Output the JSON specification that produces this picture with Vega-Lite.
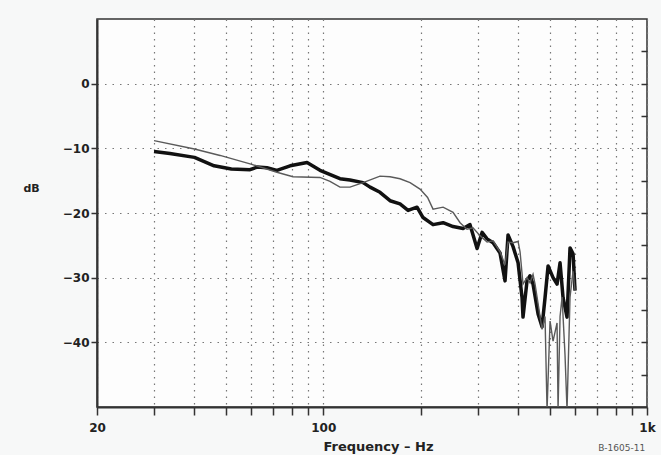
{
  "$schema": "https://vega.github.io/schema/vega-lite/v6.json",
  "width": 550,
  "height": 388,
  "autosize": {"type": "none"},
  "padding": {"left": 97, "top": 19, "right": 14, "bottom": 48},
  "background": "#f7f8f8",
  "config": {
    "view": {"stroke": "#333333", "strokeWidth": 1.5, "fill": "#fdfdfd"},
    "font": "DejaVu Sans"
  },
  "title": {
    "text": "B-1605-11",
    "orient": "bottom",
    "anchor": "end",
    "fontSize": 9,
    "fontWeight": "normal",
    "color": "#555555",
    "font": "DejaVu Sans",
    "offset": 0,
    "dy": -9,
    "dx": -10
  },
  "data": {
    "values": [
      {"series": "thick", "f": 30, "db": -10.5},
      {"series": "thick", "f": 33.6, "db": -10.8},
      {"series": "thick", "f": 40, "db": -11.4},
      {"series": "thick", "f": 46, "db": -12.7},
      {"series": "thick", "f": 52, "db": -13.2},
      {"series": "thick", "f": 59.4, "db": -13.3},
      {"series": "thick", "f": 62.5, "db": -12.9},
      {"series": "thick", "f": 67, "db": -13.0},
      {"series": "thick", "f": 71.9, "db": -13.4},
      {"series": "thick", "f": 79, "db": -12.7},
      {"series": "thick", "f": 89.1, "db": -12.2},
      {"series": "thick", "f": 97.7, "db": -13.4},
      {"series": "thick", "f": 112.6, "db": -14.7},
      {"series": "thick", "f": 120.9, "db": -14.9},
      {"series": "thick", "f": 132.7, "db": -15.3},
      {"series": "thick", "f": 139.5, "db": -16.0},
      {"series": "thick", "f": 149.7, "db": -16.8},
      {"series": "thick", "f": 160.8, "db": -18.1},
      {"series": "thick", "f": 172.6, "db": -18.6},
      {"series": "thick", "f": 182.8, "db": -19.6},
      {"series": "thick", "f": 194.8, "db": -19.1},
      {"series": "thick", "f": 203.3, "db": -20.7},
      {"series": "thick", "f": 218.3, "db": -21.8},
      {"series": "thick", "f": 234.5, "db": -21.5},
      {"series": "thick", "f": 251.7, "db": -22.1},
      {"series": "thick", "f": 270.3, "db": -22.4},
      {"series": "thick", "f": 284, "db": -21.8},
      {"series": "thick", "f": 298.6, "db": -25.5},
      {"series": "thick", "f": 309.4, "db": -23.0},
      {"series": "thick", "f": 320.6, "db": -24.0},
      {"series": "thick", "f": 334.6, "db": -24.6},
      {"series": "thick", "f": 351.6, "db": -26.2},
      {"series": "thick", "f": 364.3, "db": -30.5},
      {"series": "thick", "f": 372.2, "db": -23.4},
      {"series": "thick", "f": 385.7, "db": -25.2},
      {"series": "thick", "f": 399.7, "db": -27.7},
      {"series": "thick", "f": 411.2, "db": -33.1},
      {"series": "thick", "f": 414, "db": -36.1},
      {"series": "thick", "f": 426, "db": -30.5},
      {"series": "thick", "f": 435.2, "db": -29.7},
      {"series": "thick", "f": 444.6, "db": -31.0},
      {"series": "thick", "f": 460.8, "db": -35.6},
      {"series": "thick", "f": 474, "db": -37.6},
      {"series": "thick", "f": 484.2, "db": -33.1},
      {"series": "thick", "f": 494.8, "db": -28.2},
      {"series": "thick", "f": 512.6, "db": -30.0},
      {"series": "thick", "f": 527.4, "db": -31.0},
      {"series": "thick", "f": 538.8, "db": -27.7},
      {"series": "thick", "f": 550.4, "db": -33.1},
      {"series": "thick", "f": 566.2, "db": -36.1},
      {"series": "thick", "f": 578.4, "db": -25.4},
      {"series": "thick", "f": 591, "db": -26.3},
      {"series": "thick", "f": 599.4, "db": -32.0},
      {"series": "thin", "f": 30, "db": -8.8},
      {"series": "thin", "f": 40, "db": -10.1},
      {"series": "thin", "f": 48, "db": -11.1},
      {"series": "thin", "f": 59.4, "db": -12.4},
      {"series": "thin", "f": 71.9, "db": -13.7},
      {"series": "thin", "f": 80.6, "db": -14.4},
      {"series": "thin", "f": 97.7, "db": -14.5},
      {"series": "thin", "f": 104.9, "db": -15.1},
      {"series": "thin", "f": 112.6, "db": -16.0},
      {"series": "thin", "f": 120.9, "db": -16.0},
      {"series": "thin", "f": 132.7, "db": -15.3},
      {"series": "thin", "f": 149.7, "db": -14.3},
      {"series": "thin", "f": 160.8, "db": -14.4},
      {"series": "thin", "f": 172.6, "db": -14.7},
      {"series": "thin", "f": 185.4, "db": -15.3},
      {"series": "thin", "f": 199, "db": -16.3},
      {"series": "thin", "f": 210, "db": -17.6},
      {"series": "thin", "f": 218.3, "db": -19.4},
      {"series": "thin", "f": 234.5, "db": -19.1},
      {"series": "thin", "f": 251.7, "db": -19.9},
      {"series": "thin", "f": 264.6, "db": -21.5},
      {"series": "thin", "f": 278, "db": -22.5},
      {"series": "thin", "f": 290, "db": -22.3},
      {"series": "thin", "f": 305, "db": -23.5},
      {"series": "thin", "f": 320.6, "db": -24.5},
      {"series": "thin", "f": 334.6, "db": -24.3},
      {"series": "thin", "f": 351.6, "db": -26.0},
      {"series": "thin", "f": 364.3, "db": -28.0},
      {"series": "thin", "f": 372.2, "db": -24.5},
      {"series": "thin", "f": 385.7, "db": -24.6},
      {"series": "thin", "f": 399.7, "db": -24.4},
      {"series": "thin", "f": 405.4, "db": -26.0},
      {"series": "thin", "f": 414, "db": -31.0},
      {"series": "thin", "f": 426, "db": -30.0},
      {"series": "thin", "f": 435.2, "db": -30.8},
      {"series": "thin", "f": 444.6, "db": -29.5},
      {"series": "thin", "f": 451, "db": -31.0},
      {"series": "thin", "f": 460.8, "db": -34.0},
      {"series": "thin", "f": 474, "db": -38.0},
      {"series": "thin", "f": 484.2, "db": -36.0},
      {"series": "thin", "f": 491.2, "db": -50.5},
      {"series": "thin", "f": 501.8, "db": -36.7},
      {"series": "thin", "f": 512.6, "db": -39.8},
      {"series": "thin", "f": 527.4, "db": -37.0},
      {"series": "thin", "f": 531.2, "db": -50.5},
      {"series": "thin", "f": 538.8, "db": -36.0},
      {"series": "thin", "f": 546.6, "db": -33.0},
      {"series": "thin", "f": 558.2, "db": -42.0},
      {"series": "thin", "f": 566.2, "db": -50.5},
      {"series": "thin", "f": 578.4, "db": -33.0},
      {"series": "thin", "f": 591, "db": -29.0},
      {"series": "thin", "f": 599.4, "db": -32.0}
    ]
  },
  "encoding": {
    "x": {
      "field": "f",
      "type": "quantitative",
      "scale": {"type": "log", "domain": [20, 1000], "nice": false},
      "axis": {
        "values": [20, 30, 40, 50, 60, 70, 80, 90, 100, 200, 300, 400, 500, 600, 700, 800, 900, 1000],
        "labelExpr": "datum.value == 20 ? '20' : datum.value == 100 ? '100' : datum.value == 1000 ? '1k' : ''",
        "labelOverlap": false,
        "labelFlush": false,
        "labelFont": "DejaVu Sans",
        "labelFontWeight": "bold",
        "labelFontSize": 12,
        "labelColor": "#222222",
        "labelPadding": 7,
        "tickSize": 8,
        "tickColor": "#333333",
        "tickWidth": 1.5,
        "domainColor": "#333333",
        "domainWidth": 2,
        "grid": true,
        "gridColor": "#777777",
        "gridDash": [1.5, 5],
        "gridWidth": 1.2,
        "title": "Frequency – Hz",
        "titleFont": "DejaVu Sans",
        "titleFontWeight": "bold",
        "titleFontSize": 13,
        "titleColor": "#222222",
        "titleX": 281,
        "titleY": 39,
        "titleBaseline": "middle"
      }
    }
  },
  "layer": [
    {
      "transform": [{"filter": "datum.series == 'thick'"}],
      "mark": {"type": "line", "color": "#111111", "strokeWidth": 3.5, "clip": true, "strokeJoin": "round"},
      "encoding": {
        "y": {
          "field": "db",
          "type": "quantitative",
          "scale": {"domain": [-50, 10], "nice": false, "zero": false},
          "axis": {
            "orient": "left",
            "values": [-40, -30, -20, -10, 0],
            "labelFont": "DejaVu Sans",
            "labelFontWeight": "bold",
            "labelFontSize": 12,
            "labelColor": "#222222",
            "labelPadding": 2,
            "tickSize": 6,
            "tickColor": "#333333",
            "tickWidth": 1.5,
            "domainColor": "#333333",
            "domainWidth": 2,
            "grid": true,
            "gridColor": "#777777",
            "gridDash": [1.5, 6],
            "gridWidth": 1.2,
            "title": "dB",
            "titleAngle": 0,
            "titleFont": "DejaVu Sans",
            "titleFontWeight": "bold",
            "titleFontSize": 11,
            "titleColor": "#222222",
            "titleX": -66,
            "titleY": 169,
            "titleAlign": "center",
            "titleBaseline": "middle"
          }
        }
      }
    },
    {
      "transform": [{"filter": "datum.series == 'thin'"}],
      "mark": {"type": "line", "color": "#5a5a5a", "strokeWidth": 1.4, "clip": true},
      "encoding": {
        "y": {
          "field": "db",
          "type": "quantitative",
          "scale": {"domain": [-50, 10], "nice": false, "zero": false},
          "axis": {
            "orient": "right",
            "values": [-45, -40, -35, -30, -25, -20, -15, -10, -5, 0, 5],
            "labels": false,
            "tickSize": -6,
            "tickColor": "#333333",
            "tickWidth": 1.5,
            "domain": false,
            "grid": false,
            "title": null
          }
        }
      }
    }
  ],
  "resolve": {"axis": {"y": "independent"}}
}
